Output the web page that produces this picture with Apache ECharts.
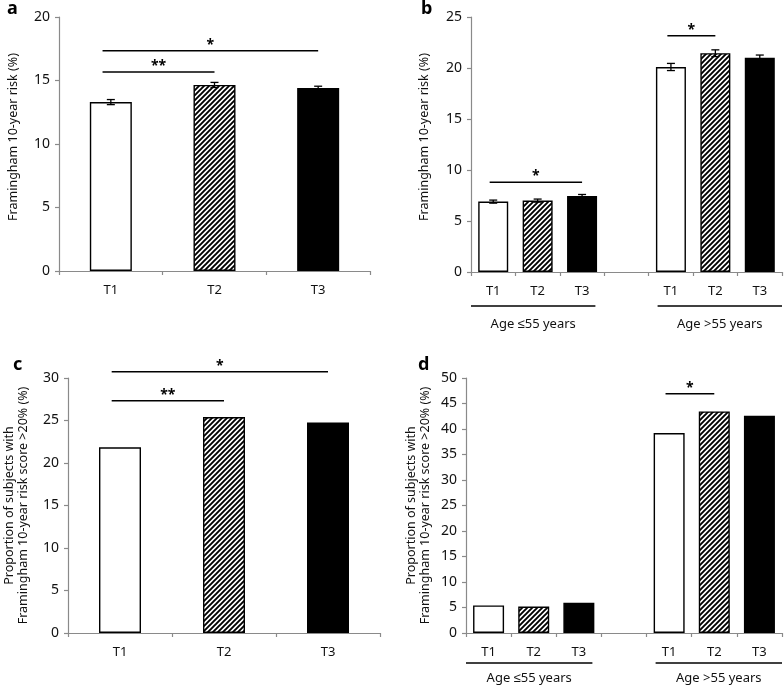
<!DOCTYPE html>
<html>
<head>
<meta charset="utf-8">
<script src="https://cdn.jsdelivr.net/npm/echarts@6/dist/echarts.min.js"></script>
<style>
  html, body { margin: 0; padding: 0; background: #fff; }
  #chart { width: 784px; height: 686px; }
</style>
</head>
<body>
<div id="chart"></div>
<script>
// ---------- data ----------
const catsA = ['T1', 'T2', 'T3'];
const riskA = [13.3, 14.65, 14.4];
const riskAErr = [0.2, 0.2, 0.15];

const catsB = ['T1', 'T2', 'T3', '', 'T1', 'T2', 'T3'];
const riskB = [6.9, 7.0, 7.45, null, 20.1, 21.45, 21.0];
const riskBErr = [0.15, 0.15, 0.15, null, 0.35, 0.33, 0.27];

const catsC = ['T1', 'T2', 'T3'];
const propC = [21.85, 25.4, 24.75];

const catsD = ['T1', 'T2', 'T3', '', 'T1', 'T2', 'T3'];
const propD = [5.4, 5.2, 5.95, null, 39.2, 43.45, 42.6];

const maxA = 20, maxB = 25, maxC = 30, maxD = 50, tickStep = 5;

// significance brackets: [fromCategory, toCategory, yValue, label]
const sigA = [[0, 2, 17.35, '*'], [0, 1, 15.67, '**']];
const sigB = [[0, 2, 8.8, '*'], [4, 5, 23.17, '*']];
const sigC = [[0, 2, 30.74, '*'], [0, 1, 27.33, '**']];
const sigD = [[4, 5, 46.9, '*']];

const groupLabels = ['Age \u226455 years', 'Age >55 years'];
const groupSpans = [[0, 2], [4, 6]];

const titleRisk = 'Framingham 10-year risk (%)';
const titleProp = 'Proportion of subjects with\nFramingham 10-year risk score >20% (%)';
const panelLetters = ['a', 'b', 'c', 'd'];

// ---------- styles ----------
const FONT = '"Noto Sans", "Liberation Sans", sans-serif';
function hatchCanvas() {
  const s = 5;
  const c = document.createElement('canvas');
  c.width = s; c.height = s;
  const g = c.getContext('2d');
  g.fillStyle = '#fff'; g.fillRect(0, 0, s, s);
  g.strokeStyle = '#000'; g.lineWidth = 1.9;
  g.beginPath();
  for (let k = -1; k <= 1; k++) {
    g.moveTo(-1 + k * s, s + 1); g.lineTo(s + 1 + k * s, -1);
  }
  g.stroke();
  return c;
}
const hatch = { image: hatchCanvas(), repeat: 'repeat' };
const fillFor = { 'T1': '#ffffff', 'T2': hatch, 'T3': '#000000' };

const chart = echarts.init(document.getElementById('chart'), null, { renderer: 'canvas' });

const grids = [
  { left: 59, top: 17, width: 311, height: 254 },
  { left: 471, top: 17, width: 311, height: 255 },
  { left: 68, top: 378, width: 312, height: 255 },
  { left: 466, top: 378, width: 316, height: 255 }
];

const axisColor = '#8a8a8a';
function xAx(i, cats) {
  return {
    type: 'category', gridIndex: i, data: cats,
    axisLine: { lineStyle: { color: axisColor, width: 1.2 } },
    axisTick: { show: true, length: 4, lineStyle: { color: axisColor, width: 1.2 } },
    axisLabel: { color: '#111', fontSize: 13, fontFamily: FONT, margin: 13, interval: 0 }
  };
}
function yAx(i, max, name, gap, pad, lh) {
  return {
    type: 'value', gridIndex: i, min: 0, max: max, interval: tickStep,
    splitLine: { show: false },
    axisLine: { show: true, lineStyle: { color: axisColor, width: 1.2 } },
    axisTick: { show: true, length: 4, lineStyle: { color: axisColor, width: 1.2 } },
    axisLabel: { color: '#111', fontSize: 14, fontFamily: FONT, margin: 9 },
    name: name, nameLocation: 'middle', nameGap: gap,
    nameTextStyle: { color: '#111', fontSize: 12.5, fontFamily: FONT, padding: pad, lineHeight: lh }
  };
}

function barSeries(i, cats, vals, width) {
  return {
    type: 'bar', xAxisIndex: i, yAxisIndex: i, barWidth: width,
    data: vals.map((v, k) => v == null ? null : {
      value: v,
      itemStyle: { color: fillFor[cats[k]], borderColor: '#000', borderWidth: 1.4 }
    })
  };
}

function errSeries(i, vals, errs) {
  const data = [];
  vals.forEach((v, k) => { if (v != null) data.push([k, v - errs[k], v + errs[k]]); });
  return {
    type: 'custom', xAxisIndex: i, yAxisIndex: i, z: 5,
    data: data, encode: { x: 0, y: [1, 2] },
    renderItem: (params, api) => {
      const lo = api.coord([api.value(0), api.value(1)]);
      const hi = api.coord([api.value(0), api.value(2)]);
      const cw = 4;
      const st = { stroke: '#000', lineWidth: 1.3 };
      return {
        type: 'group', children: [
          { type: 'line', shape: { x1: lo[0], y1: lo[1], x2: hi[0], y2: hi[1] }, style: st },
          { type: 'line', shape: { x1: lo[0] - cw, y1: lo[1], x2: lo[0] + cw, y2: lo[1] }, style: st },
          { type: 'line', shape: { x1: hi[0] - cw, y1: hi[1], x2: hi[0] + cw, y2: hi[1] }, style: st }
        ]
      };
    }
  };
}

function sigSeries(i, sigs) {
  return {
    type: 'custom', xAxisIndex: i, yAxisIndex: i, z: 6, clip: false, silent: true,
    data: sigs.map(s => [s[0], s[2]]),
    renderItem: (params, api) => {
      const s = sigs[params.dataIndex];
      const band = api.size([1, 0])[0];
      const p1 = api.coord([s[0], s[2]]);
      const p2 = api.coord([s[1], s[2]]);
      const x1 = p1[0] - 0.08 * band, x2 = p2[0];
      return {
        type: 'group', children: [
          { type: 'line', shape: { x1: x1, y1: p1[1], x2: x2, y2: p1[1] }, style: { stroke: '#000', lineWidth: 1.5 } },
          { type: 'text', style: { x: (x1 + x2) / 2, y: p1[1] + 1, text: s[3], align: 'center', verticalAlign: 'bottom',
            fill: '#000', font: 'bold 14px ' + FONT } }
        ]
      };
    }
  };
}

function groupSeries(i, lineOff, labelOff) {
  return {
    type: 'custom', xAxisIndex: i, yAxisIndex: i, z: 6, clip: false, silent: true,
    data: groupSpans.map(g => [g[0], 0]),
    renderItem: (params, api) => {
      const gi = params.dataIndex;
      const g = groupSpans[gi];
      const band = api.size([1, 0])[0];
      const a = api.coord([g[0], 0]), b = api.coord([g[1], 0]);
      const x1 = a[0] - (gi === 0 ? 0.5 : 0.3) * band;
      const x2 = b[0] + (gi === 0 ? 0.3 : 0.5) * band;
      const y0 = a[1];
      return {
        type: 'group', children: [
          { type: 'line', shape: { x1: x1, y1: y0 + lineOff, x2: x2, y2: y0 + lineOff }, style: { stroke: '#000', lineWidth: 1.3 } },
          { type: 'text', style: { x: (x1 + x2) / 2, y: y0 + labelOff, text: groupLabels[gi], align: 'center', verticalAlign: 'middle',
            fill: '#111', font: '13px ' + FONT } }
        ]
      };
    }
  };
}

const letterPos = [[7, 0], [421, 0], [13, 356], [418, 356]];

const option = {
  animation: false,
  backgroundColor: '#fff',
  grid: grids,
  xAxis: [xAx(0, catsA), xAx(1, catsB), xAx(2, catsC), xAx(3, catsD)],
  yAxis: [
    yAx(0, maxA, titleRisk, 39, [0, 0, 0, 14], 14),
    yAx(1, maxB, titleRisk, 40, [0, 0, 0, 15], 14),
    yAx(2, maxC, titleProp, 38, 0, 13.5),
    yAx(3, maxD, titleProp, 34, 0, 13.5)
  ],
  series: [
    barSeries(0, catsA, riskA, 42), errSeries(0, riskA, riskAErr), sigSeries(0, sigA),
    barSeries(1, catsB, riskB, 30), errSeries(1, riskB, riskBErr), sigSeries(1, sigB), groupSeries(1, 34, 52),
    barSeries(2, catsC, propC, 42), sigSeries(2, sigC),
    barSeries(3, catsD, propD, 31), sigSeries(3, sigD), groupSeries(3, 30, 45)
  ],
  graphic: panelLetters.map((t, k) => ({
    type: 'text', left: letterPos[k][0], top: letterPos[k][1],
    style: { text: t, fill: '#000', font: 'bold 18px ' + FONT }
  }))
};
chart.setOption(option);
</script>
</body>
</html>
